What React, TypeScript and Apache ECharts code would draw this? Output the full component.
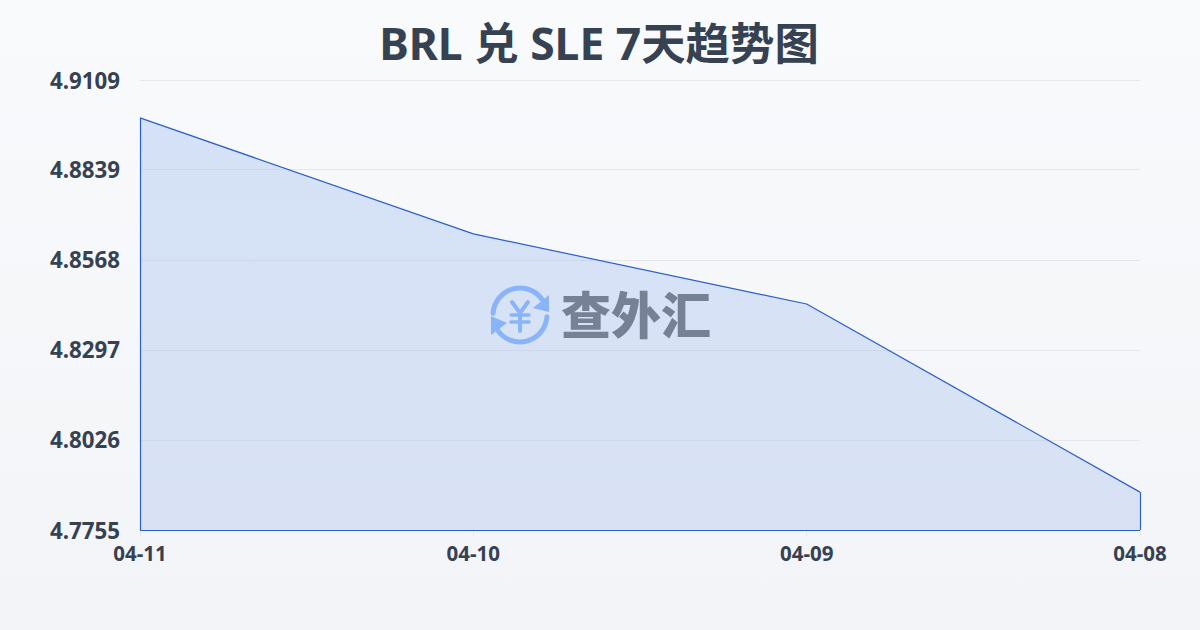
import React, { useEffect, useRef } from "react";
import * as echarts from "echarts";

const titleText = "BRL 兑 SLE 7天趋势图";
const watermarkText = "查外汇";
const categories = ["04-11", "04-10", "04-09", "04-08"];
const rates = [4.8995, 4.8646, 4.8435, 4.7869];
const yTicks = [4.7755, 4.8026, 4.8297, 4.8568, 4.8839, 4.9109];
const yMin = 4.7755;
const yMax = 4.9109;

const LINE = "#2b5fc9";
const LOGO = "#8ab4f8";
const INK = "#364152";
const FONT = "'Noto Sans','Noto Sans CJK SC',sans-serif";

export default function App() {
  const ref = useRef<HTMLDivElement>(null);
  useEffect(() => {
    const chart = echarts.init(ref.current!, undefined, { renderer: "svg" });
    const first = categories[0];
    const last = categories[categories.length - 1];
    chart.setOption({
      animation: false,
      backgroundColor: {
        type: "linear", x: 0, y: 0, x2: 0, y2: 1,
        colorStops: [{ offset: 0, color: "#f9fafc" }, { offset: 1, color: "#f2f4f7" }],
      },
      title: {
        text: titleText,
        left: 594,
        textAlign: "center",
        top: 16,
        textStyle: {
          fontFamily: FONT,
          fontSize: 44.4,
          fontWeight: 700,
          color: INK,
        },
      },
      grid: { left: 140, right: 60, top: 80, bottom: 100 },
      xAxis: {
        type: "category",
        data: categories,
        boundaryGap: false,
        axisLine: { show: false },
        axisTick: { show: true, length: 6, lineStyle: { color: "#e5e7eb" } },
        axisLabel: {
          margin: 13,
          fontFamily: FONT,
          fontSize: 20.5,
          fontWeight: 700,
          color: INK,
          alignMaxLabel: "center",
          alignMinLabel: "center",
          showMinLabel: true,
          showMaxLabel: true,
        },
        splitLine: { show: false },
      },
      yAxis: {
        type: "value",
        min: yMin,
        max: yMax,
        axisLine: { show: false },
        axisTick: { show: false, customValues: yTicks },
        axisLabel: {
          customValues: yTicks,
          margin: 20,
          padding: [0, 0, 6, 0],
          fontFamily: FONT,
          fontSize: 22.3,
          fontWeight: 700,
          color: INK,
          formatter: (v: number) => v.toFixed(4),
        },
        splitLine: { show: true, customValues: yTicks, lineStyle: { color: "#e5e7eb", width: 1 } },
      },
      series: [
        {
          type: "line",
          data: rates,
          showSymbol: false,
          symbol: "none",
          lineStyle: { color: LINE, width: 1.2 },
          areaStyle: {
            color: {
              type: "linear", x: 0, y: 0, x2: 0, y2: 1,
              colorStops: [
                { offset: 0, color: "rgba(160,192,240,0.4)" },
                { offset: 1, color: "rgba(160,185,235,0.32)" },
              ],
            },
            opacity: 1,
          },
          markLine: {
            silent: true,
            symbol: "none",
            label: { show: false },
            lineStyle: { color: LINE, width: 1.2, type: "solid" },
            data: [
              [{ coord: [first, yMin] }, { coord: [first, rates[0]] }],
              [{ coord: [first, yMin] }, { coord: [last, yMin] }],
              [{ coord: [last, yMin] }, { coord: [last, rates[rates.length - 1]] }],
            ],
          },
        },
      ],
      graphic: [
        { type: "arc", z: 50, shape: { cx: 520, cy: 315, r: 27, startAngle: Math.PI * 1.02, endAngle: Math.PI * 1.82 }, style: { fill: "none", stroke: LOGO, lineWidth: 5, lineCap: "round" } },
        { type: "arc", z: 50, shape: { cx: 520, cy: 315, r: 27, startAngle: Math.PI * 0.02, endAngle: Math.PI * 0.82 }, style: { fill: "none", stroke: LOGO, lineWidth: 5, lineCap: "round" } },
        { type: "polygon", z: 50, shape: { points: [[549, 295], [549, 312], [533, 308]] }, style: { fill: LOGO } },
        { type: "polygon", z: 50, shape: { points: [[491, 316], [507, 323], [491, 335]] }, style: { fill: LOGO } },
        { type: "polyline", z: 50, shape: { points: [[512, 302], [520, 313], [528, 302]] }, style: { fill: "none", stroke: LOGO, lineWidth: 4, lineCap: "round", lineJoin: "round" } },
        { type: "line", z: 50, shape: { x1: 511, y1: 315, x2: 529, y2: 315 }, style: { stroke: LOGO, lineWidth: 3.5, lineCap: "round" } },
        { type: "line", z: 50, shape: { x1: 511, y1: 322, x2: 529, y2: 322 }, style: { stroke: LOGO, lineWidth: 3.5, lineCap: "round" } },
        { type: "line", z: 50, shape: { x1: 520, y1: 313, x2: 520, y2: 331 }, style: { stroke: LOGO, lineWidth: 4, lineCap: "round" } },
        {
          type: "text", z: 50, x: 636, y: 312,
          style: {
            text: watermarkText,
            fontFamily: "'Noto Sans CJK SC',sans-serif",
            fontSize: 50,
            fontWeight: 900,
            fill: "#778196",
            align: "center",
            verticalAlign: "middle",
          },
        },
      ],
    });
    return () => chart.dispose();
  }, []);
  return <div ref={ref} style={{ position: "fixed", left: 0, top: 0, width: 1200, height: 630 }} />;
}
